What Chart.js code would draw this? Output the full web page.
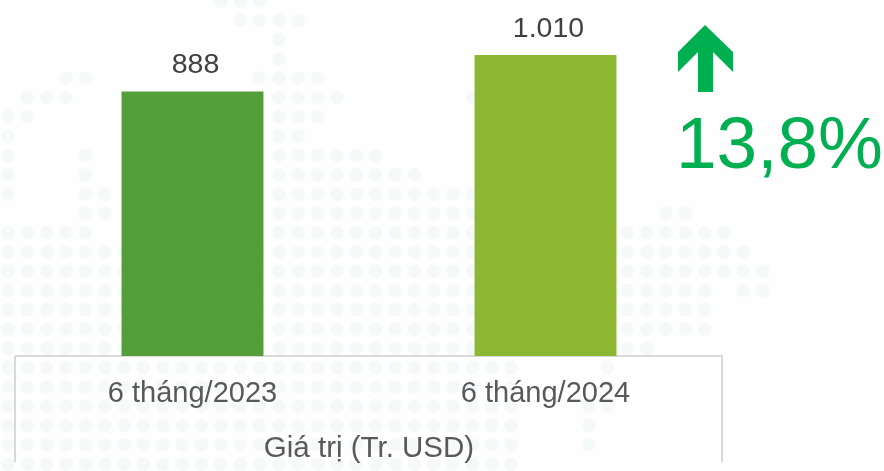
<!DOCTYPE html>
<html>
<head>
<meta charset="utf-8">
<title>Giá trị (Tr. USD)</title>
<script src="https://cdn.jsdelivr.net/npm/chart.js@4"></script>
<style>
  html, body { margin: 0; padding: 0; background: #fefefe; }
  canvas { display: block; }
</style>
</head>
<body>
<canvas id="valueChart" width="884" height="471"></canvas>
<script>
const categories = ['6 tháng/2023', '6 tháng/2024'];
const values = [888, 1010];
const barColors = ['#539E39', '#8CB733'];
const seriesName = 'Giá trị (Tr. USD)';
const changeLabel = '13,8%';

// faint dotted world map behind the chart: each row lists [first, last] dot columns
const mapRows = [
  [[11, 13]], [[12, 15]], [[14, 14]], [[14, 14]],
  [[3, 4], [13, 16]],
  [[1, 3], [14, 17], [24, 24]],
  [[0, 1], [14, 16]],
  [[0, 0], [14, 15]],
  [[0, 0], [4, 4], [14, 19]],
  [[0, 0], [4, 4], [14, 21]],
  [[0, 0], [4, 5], [14, 24]],
  [[4, 5], [14, 24], [34, 35]],
  [[0, 4], [14, 37]],
  [[0, 38]], [[0, 39]],
  [[0, 36], [38, 39]],
  [[0, 36]], [[0, 36]], [[0, 33]],
  [[0, 26], [31, 31]],
  [[0, 26], [31, 31]],
  [[0, 26], [30, 31]],
  [[0, 26], [30, 30]],
  [[0, 26], [30, 30]],
  [[0, 26]]
];

const dotMap = {
  id: 'dotMap',
  beforeDraw(chart) {
    const c = chart.ctx;
    c.save();
    c.fillStyle = '#fefefe';
    c.fillRect(0, 0, chart.width, chart.height);
    c.fillStyle = '#f6f9f9';
    c.shadowColor = '#f9fbfb';
    c.shadowBlur = 3;
    mapRows.forEach((spans, row) => {
      spans.forEach(([from, to]) => {
        for (let col = from; col <= to; col++) {
          c.beginPath();
          c.arc(8 + 19.35 * col, 1 + 19.3 * row, 6.5, 0, Math.PI * 2);
          c.fill();
        }
      });
    });
    c.restore();
  }
};

const extras = {
  id: 'extras',
  afterDatasetsDraw(chart) {
    const c = chart.ctx;
    const area = chart.chartArea;
    c.save();

    // sides of the data table box under the bars
    c.strokeStyle = '#d9d9d9';
    c.lineWidth = 2;
    c.beginPath();
    c.moveTo(area.left - 1, area.bottom);
    c.lineTo(area.left - 1, 462);
    c.moveTo(area.right, area.bottom);
    c.lineTo(area.right, 462);
    c.stroke();

    // value over each bar
    c.font = '28.5px "Liberation Sans"';
    c.fillStyle = '#404040';
    c.textAlign = 'center';
    c.textBaseline = 'alphabetic';
    chart.getDatasetMeta(0).data.forEach((bar, i) => {
      const text = String(values[i]).replace(/\B(?=(\d{3})+$)/g, '.');
      c.fillText(text, bar.x + 3, bar.y - 18);
    });

    // growth arrow and percentage
    c.fillStyle = '#00B050';
    c.beginPath();
    c.moveTo(705, 25);
    c.lineTo(733, 52);
    c.lineTo(733, 72);
    c.lineTo(713, 52);
    c.lineTo(713, 92);
    c.lineTo(698, 92);
    c.lineTo(698, 52);
    c.lineTo(678, 72);
    c.lineTo(678, 52);
    c.closePath();
    c.fill();

    c.font = '73px "Liberation Sans"';
    c.textAlign = 'left';
    c.fillText(changeLabel, 676, 168);
    c.restore();
  }
};

new Chart(document.getElementById('valueChart'), {
  type: 'bar',
  data: {
    labels: categories,
    datasets: [{
      label: seriesName,
      data: values,
      backgroundColor: barColors,
      barPercentage: 0.402,
      categoryPercentage: 1
    }]
  },
  options: {
    responsive: false,
    animation: false,
    layout: { padding: { left: 16, right: 162, top: 0, bottom: 0 } },
    plugins: { legend: { display: false }, tooltip: { enabled: false } },
    scales: {
      x: {
        afterFit(scale) { scale.height = 115; },
        grid: { display: false, drawTicks: false },
        border: { color: '#d9d9d9', width: 2 },
        ticks: {
          color: '#595959',
          padding: 21,
          maxRotation: 0,
          font: { family: '"Liberation Sans"', size: 29 }
        },
        title: {
          display: true,
          text: seriesName,
          color: '#595959',
          padding: { top: 0, bottom: 4 },
          font: { family: '"Liberation Sans"', size: 29.5 }
        }
      },
      y: { display: false, min: 0, max: 1195 }
    }
  },
  plugins: [dotMap, extras]
});
</script>
</body>
</html>
